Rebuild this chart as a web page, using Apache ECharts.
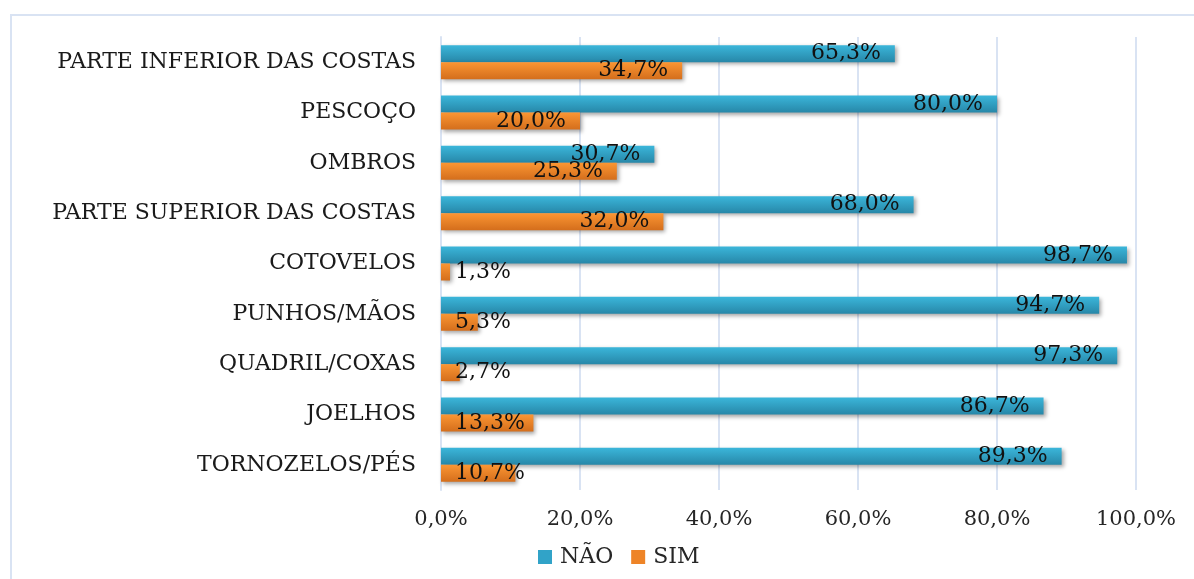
<!DOCTYPE html>
<html><head><meta charset="utf-8">
<script src="https://cdn.jsdelivr.net/npm/echarts@6/dist/echarts.min.js"></script>
<style>html,body{margin:0;padding:0;background:#fff}#c{width:1194px;height:579px}</style>
</head><body><div id="c"></div>
<script>
const categories = ["PARTE INFERIOR DAS COSTAS","PESCOÇO","OMBROS","PARTE SUPERIOR DAS COSTAS","COTOVELOS","PUNHOS/MÃOS","QUADRIL/COXAS","JOELHOS","TORNOZELOS/PÉS"];
const naoValues = [65.3, 80.0, 30.7, 68.0, 98.7, 94.7, 97.3, 86.7, 89.3];
const simValues = [34.7, 20.0, 25.3, 32.0, 1.3, 5.3, 2.7, 13.3, 10.7];
const seriesNames = ["NÃO", "SIM"];
const font = "'DejaVu Serif', 'Liberation Serif', serif";
const fmt = v => v.toFixed(1).replace('.', ',') + '%';
const chart = echarts.init(document.getElementById('c'));
const grad = (a, b) => new echarts.graphic.LinearGradient(0, 0, 0, 1, [{offset: 0, color: a}, {offset: 1, color: b}]);
const lbl = {show: true, position: 'insideRight', distance: 14, formatter: p => fmt(p.value), fontFamily: font, fontSize: 22, color: '#111'};
const mk = vals => vals.map(v => v < 14 ? {value: v, label: {position: 'insideLeft', distance: 14}} : v);
chart.setOption({
  animation: false,
  graphic: [{type: 'rect', shape: {x: 11, y: 15, width: 1200, height: 600}, style: {fill: 'none', stroke: '#D9E3F3', lineWidth: 2}, silent: true}],
  grid: {left: 441, right: 58, top: 37, bottom: 89, containLabel: false},
  xAxis: {
    type: 'value', min: 0, max: 100, interval: 20,
    axisLabel: {formatter: v => v.toFixed(1).replace('.', ',') + '%', fontFamily: font, fontSize: 21, color: '#262626', margin: 19},
    splitLine: {lineStyle: {color: '#D9E3F3', width: 2}},
    axisLine: {show: false}, axisTick: {show: false}
  },
  yAxis: {
    type: 'category', data: categories, inverse: true,
    axisLabel: {fontFamily: font, fontSize: 22, color: '#1a1a1a', margin: 25},
    axisLine: {show: true, lineStyle: {color: '#D9E3F3', width: 2}}, axisTick: {show: false}
  },
  legend: {
    bottom: 6, left: 533, itemWidth: 14, itemHeight: 14, itemGap: 18,
    textStyle: {fontFamily: font, fontSize: 22, color: '#262626', padding: [0, 0, 0, 3]},
    data: [{name: seriesNames[0], icon: 'rect', itemStyle: {color: '#31A3C8'}}, {name: seriesNames[1], icon: 'rect', itemStyle: {color: '#EE8427'}}]
  },
  series: [
    {name: seriesNames[0], type: 'bar', data: mk(naoValues), barWidth: 17, barGap: '0%',
     itemStyle: {color: grad('#3BB6DA', '#2787A8'), shadowColor: 'rgba(0,0,0,0.35)', shadowBlur: 4, shadowOffsetX: 2, shadowOffsetY: 2},
     label: lbl},
    {name: seriesNames[1], type: 'bar', data: mk(simValues), barWidth: 17,
     itemStyle: {color: grad('#FB9633', '#D46E1C'), shadowColor: 'rgba(0,0,0,0.35)', shadowBlur: 4, shadowOffsetX: 2, shadowOffsetY: 2},
     label: lbl}
  ]
});
</script></body></html>
